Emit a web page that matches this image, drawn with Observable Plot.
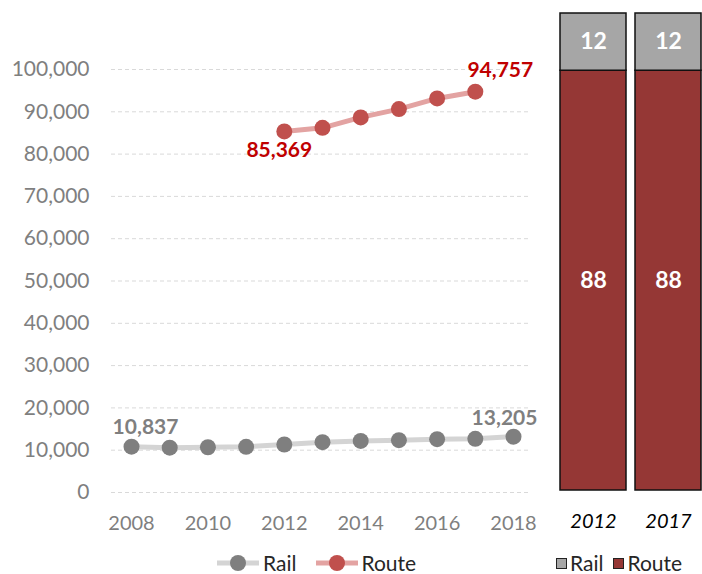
<!DOCTYPE html>
<html>
<head>
<meta charset="utf-8">
<script src="https://cdn.jsdelivr.net/npm/d3@7"></script>
<script src="https://cdn.jsdelivr.net/npm/@observablehq/plot@0.6"></script>
<style>
  html, body { margin: 0; padding: 0; background: #fff; }
  #wrap { position: relative; width: 702px; height: 574px; overflow: hidden; font-family: Lato, sans-serif; }
  #line { position: absolute; left: 0; top: 0; }
  #bars { position: absolute; left: 545px; top: 0; }
  .legend { position: absolute; top: 553px; height: 20px; font-size: 21px; color: #262626; display: flex; align-items: center; white-space: nowrap; line-height: 20px; }
  .legend svg { display: block; }
  .legend span { display: inline-block; }
</style>
</head>
<body>
<div id="wrap">
  <div id="line"></div>
  <div id="bars"></div>
  <div class="legend" id="leg1" style="left:217px;"></div>
  <div class="legend" id="leg2" style="left:556px;"></div>
</div>
<script>
// ---- Data ----
const years = [2008, 2009, 2010, 2011, 2012, 2013, 2014, 2015, 2016, 2017, 2018];
const railValues = [10837, 10600, 10700, 10800, 11340, 11890, 12200, 12360, 12600, 12680, 13205];
const routeYears = [2012, 2013, 2014, 2015, 2016, 2017];
const routeValues = [85369, 86220, 88680, 90640, 93160, 94757];
const yTicks = [0, 10000, 20000, 30000, 40000, 50000, 60000, 70000, 80000, 90000, 100000];
const xTicks = [2008, 2010, 2012, 2014, 2016, 2018];
const barYears = ["2012", "2017"];
const railShare = [12, 12];
const routeShare = [88, 88];
const seriesNames = ["Rail", "Route"];

// ---- Colors ----
const railLine = "#d4d4d4", railDot = "#7f7f7f", railLabel = "#7f7f7f";
const routeLine = "#e3a3a2", routeDot = "#c0504d", routeLabel = "#c00000";
const barRail = "#a6a6a6", barRoute = "#953735";

const rail = years.map((y, i) => ({year: y, value: railValues[i]}));
const route = routeYears.map((y, i) => ({year: y, value: routeValues[i]}));
const fmt = d3.format(",");

const lineChart = Plot.plot({
  width: 545,
  height: 540,
  marginTop: 69,
  marginBottom: 48,
  marginLeft: 111,
  marginRight: 14,
  style: {fontFamily: "Lato, sans-serif", fontSize: "20px", background: "transparent", overflow: "visible"},
  x: {domain: [2007.476, 2018.471], label: null},
  y: {domain: [0, 100000], label: null},
  marks: [
    Plot.ruleY(yTicks, {stroke: "#d9d9d9", strokeWidth: 1, strokeDasharray: "4,3"}),
    Plot.axisY({ticks: yTicks, tickFormat: fmt, tickSize: 0, tickPadding: 22, color: "#7f7f7f", fontSize: 21, label: null}),
    Plot.axisX({ticks: xTicks, tickFormat: d => String(d), tickSize: 0, tickPadding: 23, color: "#7f7f7f", fontSize: 20, label: null}),
    Plot.line(rail, {x: "year", y: "value", stroke: railLine, strokeWidth: 5}),
    Plot.line(route, {x: "year", y: "value", stroke: routeLine, strokeWidth: 5}),
    Plot.dot(rail, {x: "year", y: "value", r: 8, fill: railDot}),
    Plot.dot(route, {x: "year", y: "value", r: 8, fill: routeDot}),
    Plot.text([rail[0]], {x: "year", y: "value", text: d => fmt(d.value), dx: 14, dy: -19, fill: railLabel, fontWeight: "bold", fontSize: 21}),
    Plot.text([rail[rail.length - 1]], {x: "year", y: "value", text: d => fmt(d.value), dx: -9, dy: -18, fill: railLabel, fontWeight: "bold", fontSize: 21}),
    Plot.text([route[0]], {x: "year", y: "value", text: d => fmt(d.value), dx: -5, dy: 19, fill: routeLabel, fontWeight: "bold", fontSize: 21}),
    Plot.text([route[route.length - 1]], {x: "year", y: "value", text: d => fmt(d.value), dx: 25, dy: -21, fill: routeLabel, fontWeight: "bold", fontSize: 21})
  ]
});
document.getElementById("line").appendChild(lineChart);

const barData = [];
barYears.forEach((y, i) => {
  barData.push({year: y, type: "Route", value: routeShare[i]});
  barData.push({year: y, type: "Rail", value: railShare[i]});
});

const barChart = Plot.plot({
  width: 157,
  height: 540,
  marginTop: 13,
  marginBottom: 50,
  marginLeft: 14,
  marginRight: 1,
  style: {fontFamily: "Lato, sans-serif", fontSize: "20px", background: "transparent", overflow: "visible"},
  x: {domain: barYears, paddingInner: 0.12, paddingOuter: 0, label: null},
  y: {domain: [0, 100], axis: null, label: null},
  color: {domain: seriesNames, range: [barRail, barRoute]},
  marks: [
    Plot.barY(barData, {x: "year", y: "value", fill: "type", stroke: "#111", strokeWidth: 1.5}),
    Plot.text(barData, Plot.stackY({x: "year", y: "value", text: d => String(d.value), fill: "white", fontWeight: "bold", fontSize: 23})),
    Plot.axisX({tickSize: 0, tickPadding: 23, fill: "#000", fontSize: 20, fontStyle: "italic", label: null})
  ]
});
document.getElementById("bars").appendChild(barChart);

// ---- Legends ----
function lineSwatch(lineColor, dotColor) {
  return `<svg width="42" height="20"><line x1="0" y1="10" x2="42" y2="10" stroke="${lineColor}" stroke-width="5"/><circle cx="21" cy="10" r="8" fill="${dotColor}"/></svg>`;
}
document.getElementById("leg1").innerHTML =
  lineSwatch(railLine, railDot) + `<span style="margin-left:4px;margin-right:20px;">${seriesNames[0]}</span>` +
  lineSwatch(routeLine, routeDot) + `<span style="margin-left:3px;">${seriesNames[1]}</span>`;
function boxSwatch(c) {
  return `<svg width="11" height="11"><rect x="0.5" y="0.5" width="10" height="10" fill="${c}" stroke="#222" stroke-width="1"/></svg>`;
}
document.getElementById("leg2").innerHTML =
  boxSwatch(barRail) + `<span style="margin-left:3px;margin-right:10px;">${seriesNames[0]}</span>` +
  boxSwatch(barRoute) + `<span style="margin-left:3px;">${seriesNames[1]}</span>`;
</script>
</body>
</html>
